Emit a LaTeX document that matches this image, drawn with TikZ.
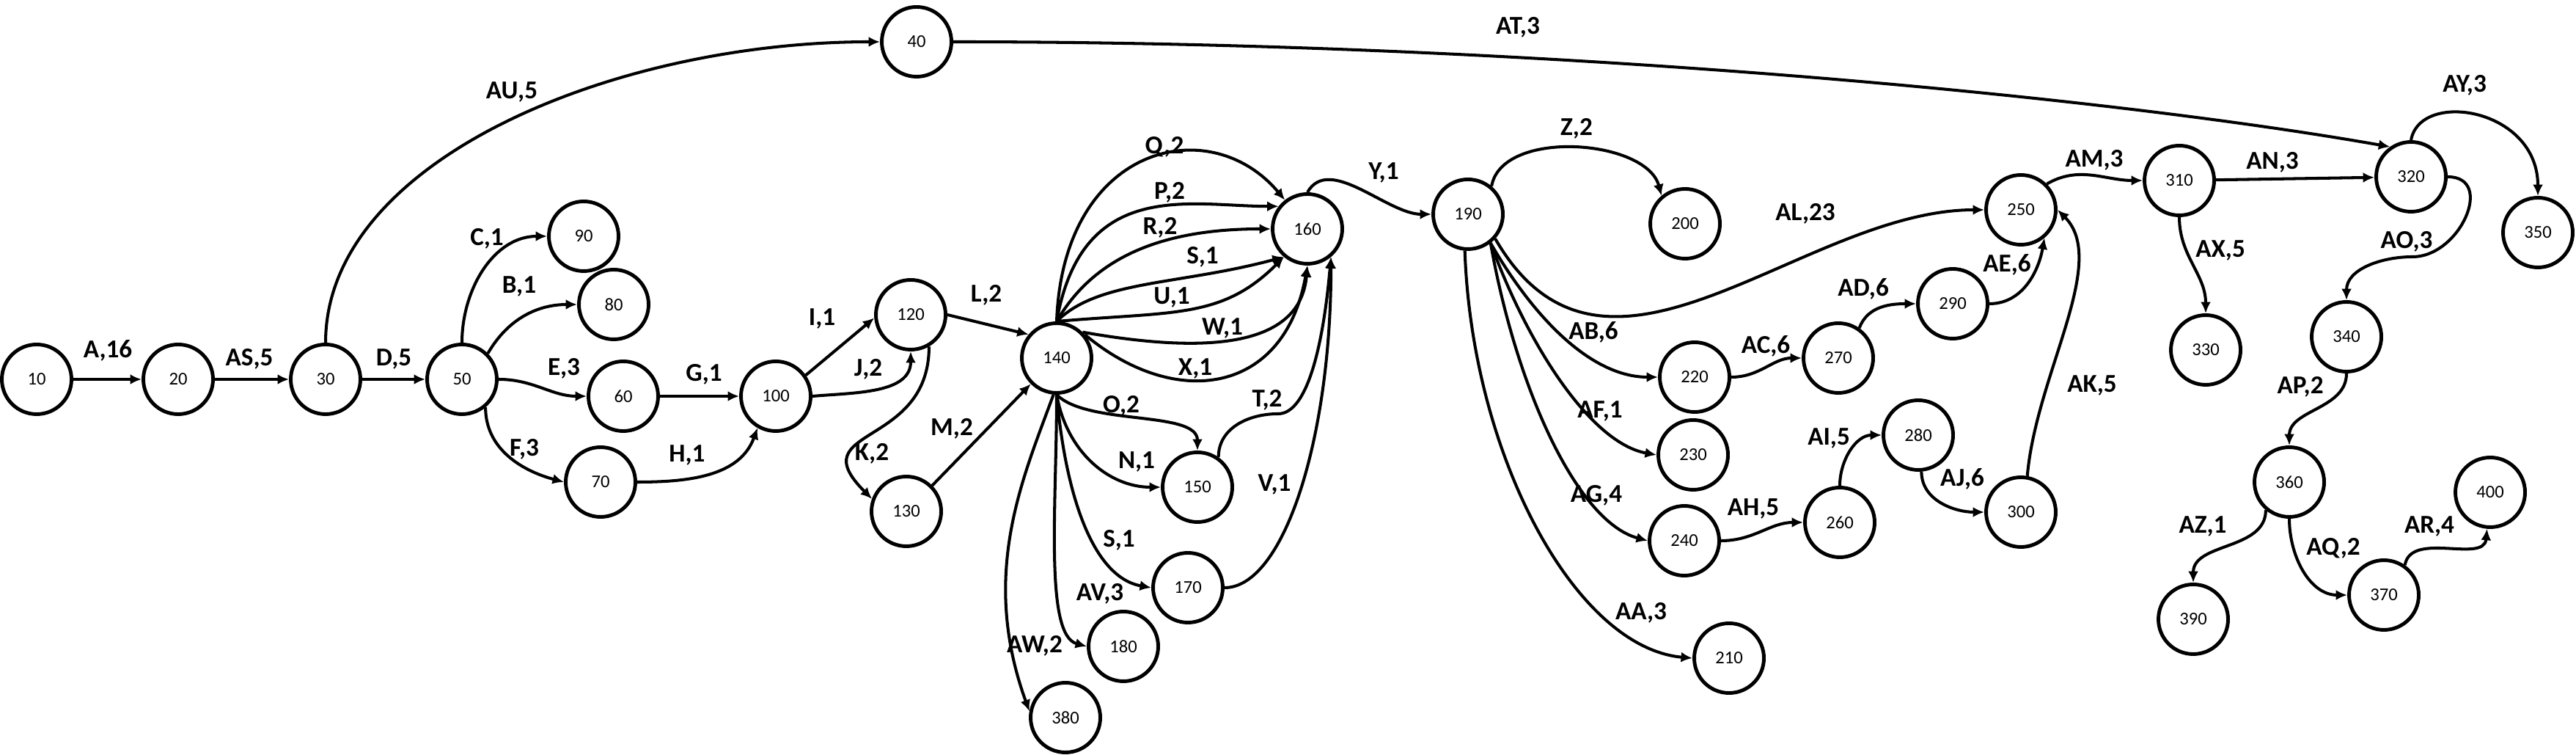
\documentclass[tikz,border=0pt]{standalone}
\usepackage{fontspec}
\setmainfont{Carlito}
\usetikzlibrary{arrows.meta}
\tikzset{
  event/.style={circle,draw,line width=1.4pt,minimum size=0.95cm,inner sep=0pt,
    font=\fontsize{7}{8}\selectfont},
  act/.style={font=\fontsize{10}{12}\selectfont\bfseries,inner sep=1pt},
  arrow/.style={-{Latex[length=1.55mm,width=1.4mm]},line width=1.15pt}
}

\begin{document}
\begin{tikzpicture}
  \useasboundingbox (0,0) rectangle (35.13,-10.29);
  \node[event] (n10) at (0.50,-5.17) {10};
  \node[event] (n20) at (2.43,-5.17) {20};
  \node[event] (n30) at (4.44,-5.17) {30};
  \node[event] (n40) at (12.50,-0.57) {40};
  \node[event] (n50) at (6.30,-5.17) {50};
  \node[event] (n60) at (8.50,-5.40) {60};
  \node[event] (n70) at (8.19,-6.57) {70};
  \node[event] (n80) at (8.37,-4.15) {80};
  \node[event] (n90) at (7.96,-3.22) {90};
  \node[event] (n100) at (10.58,-5.40) {100};
  \node[event] (n120) at (12.42,-4.29) {120};
  \node[event] (n130) at (12.36,-6.97) {130};
  \node[event] (n140) at (14.41,-4.88) {140};
  \node[event] (n150) at (16.33,-6.64) {150};
  \node[event] (n160) at (17.83,-3.12) {160};
  \node[event] (n170) at (16.20,-8.01) {170};
  \node[event] (n180) at (15.32,-8.81) {180};
  \node[event] (n190) at (20.02,-2.92) {190};
  \node[event] (n200) at (22.98,-3.05) {200};
  \node[event] (n210) at (23.58,-8.97) {210};
  \node[event] (n220) at (23.11,-5.14) {220};
  \node[event] (n230) at (23.09,-6.20) {230};
  \node[event] (n240) at (22.97,-7.37) {240};
  \node[event] (n250) at (27.56,-2.86) {250};
  \node[event] (n260) at (25.09,-7.12) {260};
  \node[event] (n270) at (25.07,-4.88) {270};
  \node[event] (n280) at (26.16,-5.93) {280};
  \node[event] (n290) at (26.63,-4.14) {290};
  \node[event] (n300) at (27.56,-6.98) {300};
  \node[event] (n310) at (29.72,-2.46) {310};
  \node[event] (n320) at (32.88,-2.41) {320};
  \node[event] (n330) at (30.08,-4.77) {330};
  \node[event] (n340) at (32.00,-4.59) {340};
  \node[event] (n350) at (34.61,-3.17) {350};
  \node[event] (n360) at (31.22,-6.57) {360};
  \node[event] (n370) at (32.51,-8.11) {370};
  \node[event] (n380) at (14.53,-9.78) {380};
  \node[event] (n390) at (29.91,-8.44) {390};
  \node[event] (n400) at (33.96,-6.71) {400};
  \coordinate (kT) at (17.43,-5.64);
  \coordinate (kAO) at (32.90,-3.50);

  \draw[arrow] (n10) -- (n20);
  \draw[arrow] (n20) -- (n30);
  \draw[arrow] (n30) -- (n50);
  \draw[arrow] (n30.north) to[out=90,in=180,out distance=2.5cm,in distance=3.6cm] (n40.west);
  \draw[arrow] (n50.north) to[out=90,in=180] (n90.west);
  \draw[arrow] (n50.45) to[out=60,in=180] (n80.west);
  \draw[arrow] (n50.east) to[out=0,in=180] (n60.west);
  \draw[arrow] (n50.-50) to[out=-90,in=165] (n70.west);
  \draw[arrow] (n60) -- (n100);
  \draw[arrow] (n70.east) to[out=0,in=-110] (n100.-120);
  \draw[arrow] (n100.35) -- (n120.185);
  \draw[arrow] (n100.east) to[out=5,in=-90] (n120.south);
  \draw[arrow] (n120.-60) to[out=-90,in=135,out distance=1.4cm,in distance=1.4cm] (n130.160);
  \draw[arrow] (n120.east) -- (n140.140);
  \draw[arrow] (n130.45) -- (n140.-135);
  \draw[arrow] (n140.north) to[out=88,in=130,out distance=2.4cm,in distance=1.6cm] (n160.128);
  \draw[arrow] (n140.north) to[out=80,in=180,out distance=2cm,in distance=1.2cm] (n160.142);
  \draw[arrow] (n140.north) to[out=60,in=180,out distance=1cm,in distance=1.5cm] (n160.west);
  \draw[arrow] (n140.north) to[out=45,in=195,out distance=0.8cm,in distance=1.5cm] (n160.-130);
  \draw[arrow] (n140.north) to[out=5,in=-135,out distance=1.6cm,in distance=1.2cm] (n160.-130);
  \draw[arrow] (n140.45) to[out=-10,in=-95,out distance=1.5cm,in distance=1.2cm] (n160.south);
  \draw[arrow] (n140.40) to[out=-40,in=-100,out distance=1.6cm,in distance=1.8cm] (n160.south);
  \draw[arrow] (n140.south) to[out=-45,in=90,out distance=0.6cm,in distance=0.55cm] (n150.north);
  \draw[arrow] (n140.south) to[out=-80,in=180,out distance=0.8cm,in distance=0.7cm] (n150.west);
  \draw[arrow] (n140.south) to[out=-85,in=170,out distance=1.4cm,in distance=0.8cm] (n170.west);
  \draw[arrow] (n140.south) to[out=-90,in=165,out distance=1.5cm,in distance=0.6cm] (n180.west);
  \draw[arrow] (n140.-95) to[out=-110,in=110,out distance=1.2cm,in distance=2cm] (n380.170);
  \draw[arrow] (n150.55) to[out=90,in=180,out distance=0.4cm,in distance=0.4cm] (kT)
    to[out=0,in=-95,out distance=0.4cm,in distance=1.2cm] (n160.-50);
  \draw[arrow] (n170.east) to[out=0,in=-90,out distance=0.8cm,in distance=2.5cm] (n160.-50);
  \draw[arrow] (n160.north) to[out=60,in=180,out distance=0.6cm,in distance=0.6cm] (n190.west);
  \draw[arrow] (n190.50) to[out=80,in=105,out distance=0.8cm,in distance=0.8cm] (n200.130);
  \draw[arrow] (n190.-42) to[out=-60,in=180,out distance=3cm,in distance=2.5cm] (n250.west);
  \draw[arrow] (n190.-52) to[out=-60,in=180,out distance=1.2cm,in distance=0.9cm] (n220.west);
  \draw[arrow] (n190.-52) to[out=-70,in=170,out distance=1.5cm,in distance=0.9cm] (n230.west);
  \draw[arrow] (n190.-52) to[out=-80,in=165,out distance=2cm,in distance=1cm] (n240.west);
  \draw[arrow] (n190.-95) to[out=-88,in=175,out distance=2.8cm,in distance=1.6cm] (n210.west);
  \draw[arrow] (n220.east) to[out=0,in=180] (n270.west);
  \draw[arrow] (n270.55) to[out=70,in=180] (n290.west);
  \draw[arrow] (n290.east) to[out=0,in=-100] (n250.-50);
  \draw[arrow] (n240.east) to[out=0,in=180] (n260.west);
  \draw[arrow] (n260.north) to[out=90,in=180] (n280.west);
  \draw[arrow] (n280.-85) to[out=-90,in=180] (n300.west);
  \draw[arrow] (n300.80) to[out=85,in=-45,out distance=1.4cm,in distance=1cm] (n250.east);
  \draw[arrow] (n250.45) to[out=30,in=180] (n310.west);
  \draw[arrow] (n310) -- (n320);
  \draw[arrow] (n40.east) to[out=0,in=170,out distance=8cm,in distance=4cm] (n320.125);
  \draw[arrow] (n320.north) to[out=80,in=90,out distance=0.7cm,in distance=1.2cm] (n350.north);
  \draw[arrow] (n310.south) to[out=-90,in=90] (n330.north);
  \draw[arrow] (n320.east) to[out=0,in=0,out distance=0.65cm,in distance=0.65cm] (kAO)
    to[out=180,in=90] (n340.north);
  \draw[arrow] (n340.south) to[out=-90,in=90] (n360.north);
  \draw[arrow] (n360.-130) to[out=-90,in=90] (n390.north);
  \draw[arrow] (n360.south) to[out=-90,in=180] (n370.west);
  \draw[arrow] (n370.55) to[out=80,in=-95] (n400.-95);

  \node[act] (lA) at (1.47,-4.78) {A,16};
  \node[act] (lAS) at (3.40,-4.89) {AS,5};
  \node[act] (lD) at (5.37,-4.89) {D,5};
  \node[act] (lAU) at (6.98,-1.25) {AU,5};
  \node[act] (lC) at (6.64,-3.25) {C,1};
  \node[act] (lB) at (7.08,-3.90) {B,1};
  \node[act] (lE) at (7.69,-5.02) {E,3};
  \node[act] (lF) at (7.15,-6.12) {F,3};
  \node[act] (lG) at (9.60,-5.10) {G,1};
  \node[act] (lH) at (9.37,-6.20) {H,1};
  \node[act] (lI) at (11.21,-4.34) {I,1};
  \node[act] (lJ) at (11.84,-5.03) {J,2};
  \node[act] (lK) at (11.89,-6.18) {K,2};
  \node[act] (lL) at (13.45,-4.02) {L,2};
  \node[act] (lM) at (12.98,-5.84) {M,2};
  \node[act] (lQ) at (15.88,-2.00) {Q,2};
  \node[act] (lP) at (15.95,-2.62) {P,2};
  \node[act] (lR) at (15.82,-3.10) {R,2};
  \node[act] (lS) at (16.40,-3.50) {S,1};
  \node[act] (lU) at (15.98,-4.05) {U,1};
  \node[act] (lW) at (16.67,-4.47) {W,1};
  \node[act] (lX) at (16.30,-5.02) {X,1};
  \node[act] (lT) at (17.28,-5.45) {T,2};
  \node[act] (lO) at (15.29,-5.53) {O,2};
  \node[act] (lN) at (15.50,-6.29) {N,1};
  \node[act] (lV) at (17.38,-6.60) {V,1};
  \node[act] (lS2) at (15.26,-7.36) {S,1};
  \node[act] (lAV) at (15.00,-8.09) {AV,3};
  \node[act] (lAW) at (14.11,-8.80) {AW,2};
  \node[act] (lY) at (18.87,-2.35) {Y,1};
  \node[act] (lZ) at (21.50,-1.75) {Z,2};
  \node[act] (lAL) at (24.62,-2.91) {AL,23};
  \node[act] (lAB) at (21.73,-4.53) {AB,6};
  \node[act] (lAC) at (24.08,-4.72) {AC,6};
  \node[act] (lAD) at (25.41,-3.94) {AD,6};
  \node[act] (lAE) at (27.37,-3.61) {AE,6};
  \node[act] (lAF) at (21.82,-5.60) {AF,1};
  \node[act] (lAG) at (21.77,-6.75) {AG,4};
  \node[act] (lAH) at (23.91,-6.93) {AH,5};
  \node[act] (lAI) at (24.94,-5.97) {AI,5};
  \node[act] (lAJ) at (26.76,-6.53) {AJ,6};
  \node[act] (lAK) at (28.53,-5.25) {AK,5};
  \node[act] (lAA) at (22.38,-8.35) {AA,3};
  \node[act] (lAM) at (28.56,-2.18) {AM,3};
  \node[act] (lAN) at (30.99,-2.21) {AN,3};
  \node[act] (lAT) at (20.70,-0.37) {AT,3};
  \node[act] (lAY) at (33.61,-1.16) {AY,3};
  \node[act] (lAX) at (30.28,-3.41) {AX,5};
  \node[act] (lAO) at (32.82,-3.29) {AO,3};
  \node[act] (lAP) at (31.37,-5.27) {AP,2};
  \node[act] (lAZ) at (30.04,-7.17) {AZ,1};
  \node[act] (lAQ) at (31.82,-7.47) {AQ,2};
  \node[act] (lAR) at (33.13,-7.17) {AR,4};
\end{tikzpicture}
\end{document}
